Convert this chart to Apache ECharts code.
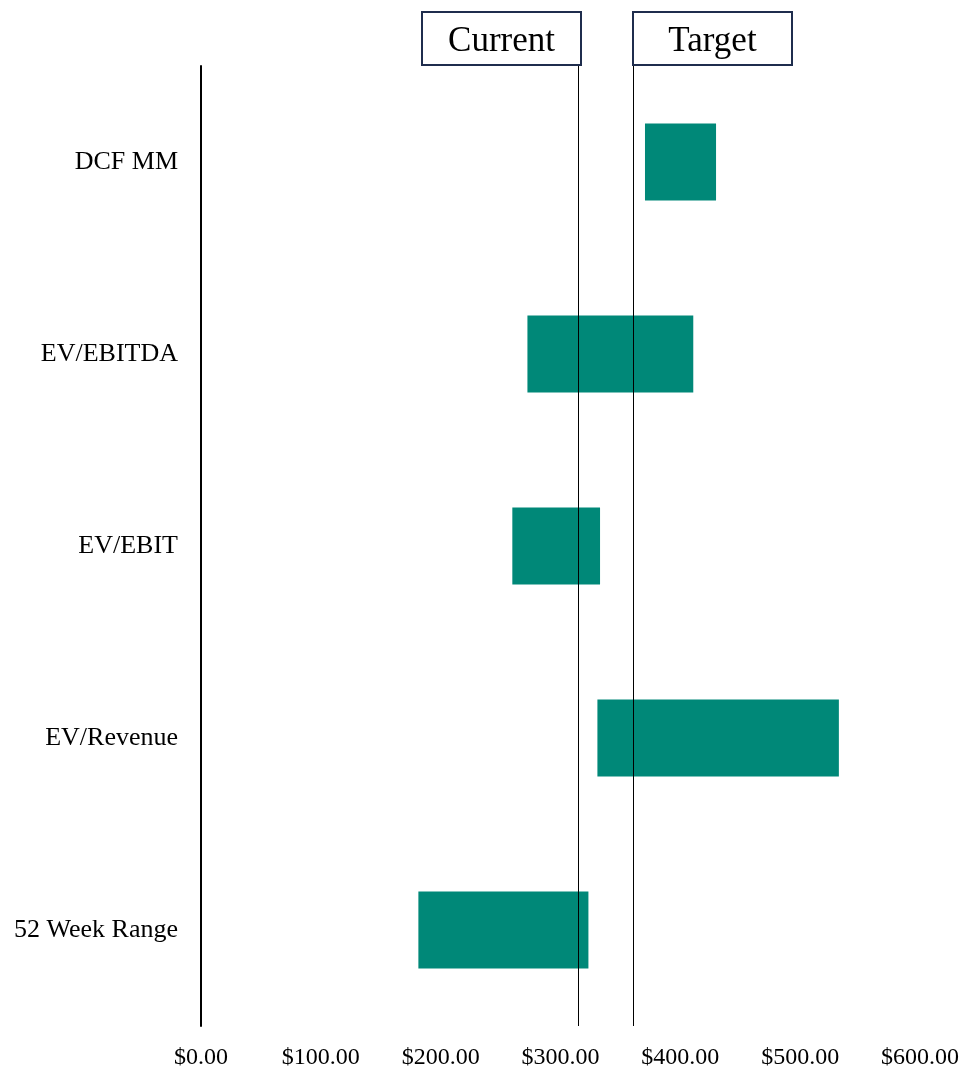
<!DOCTYPE html>
<html>
<head>
<meta charset="utf-8">
<script src="https://cdn.jsdelivr.net/npm/echarts@6/dist/echarts.min.js"></script>
<style>
html,body{margin:0;padding:0;background:#fff;}
#chart{width:967px;height:1070px;}
</style>
</head>
<body>
<div id="chart"></div>
<script>
// Data
var categories = ['52 Week Range', 'EV/Revenue', 'EV/EBIT', 'EV/EBITDA', 'DCF MM'];
var lowValues  = [181.4, 330.8, 259.8, 272.4, 370.5];
var highValues = [323.3, 532.3, 333.0, 410.8, 429.8];
var currentPrice = 314.5;
var targetPrice = 360.6;
var xTicks = [0, 100, 200, 300, 400, 500, 600];

var FONT = '"Liberation Serif", "Times New Roman", serif';
var BAR = '#008878';

var chart = echarts.init(document.getElementById('chart'), null, {renderer: 'canvas'});

var option = {
  animation: false,
  backgroundColor: '#ffffff',
  grid: {left: 201, right: 47, top: 66, bottom: 44, containLabel: false},
  xAxis: {
    type: 'value',
    min: xTicks[0],
    max: xTicks[xTicks.length - 1],
    interval: 100,
    axisLine: {show: false},
    axisTick: {show: false},
    splitLine: {show: false},
    axisLabel: {
      margin: 20,
      fontFamily: FONT,
      fontSize: 24,
      color: '#000',
      formatter: function (v) { return '$' + v.toFixed(2); }
    }
  },
  yAxis: {
    type: 'category',
    data: categories,
    axisLine: {show: true, lineStyle: {color: '#000', width: 2}},
    axisTick: {show: false},
    splitLine: {show: false},
    axisLabel: {
      margin: 23,
      fontFamily: FONT,
      fontSize: 26,
      color: '#000',
      padding: [3, 0, 0, 0]
    }
  },
  series: [
    {
      type: 'bar',
      stack: 'range',
      data: lowValues,
      itemStyle: {color: 'transparent'},
      barCategoryGap: '60%',
      silent: true
    },
    {
      type: 'bar',
      stack: 'range',
      data: highValues.map(function (h, i) { return +(h - lowValues[i]).toFixed(2); }),
      itemStyle: {color: BAR},
      barCategoryGap: '60%'
    },
    {
      type: 'line',
      data: [],
      z: 10,
      markLine: {
        symbol: ['none', 'none'],
        silent: true,
        label: {show: false},
        lineStyle: {color: '#000', width: 1, type: 'solid'},
        data: [{xAxis: currentPrice}, {xAxis: targetPrice}]
      }
    }
  ]
};
chart.setOption(option);

var cx = chart.convertToPixel({xAxisIndex: 0}, currentPrice);
var tx = chart.convertToPixel({xAxisIndex: 0}, targetPrice);
var boxW = 159, boxH = 53, boxTop = 12;
function box(left, text) {
  return {
    type: 'group',
    children: [
      {
        type: 'rect',
        shape: {x: left, y: boxTop, width: boxW, height: boxH},
        style: {fill: '#fff', stroke: '#1f2d4d', lineWidth: 2},
        z: 20
      },
      {
        type: 'text',
        x: left + boxW / 2,
        y: boxTop + boxH / 2 + 3,
        style: {
          text: text,
          fontFamily: FONT,
          fontSize: 35,
          fill: '#000',
          align: 'center',
          verticalAlign: 'middle'
        },
        z: 21
      }
    ]
  };
}
chart.setOption({
  graphic: [box(Math.round(cx) + 3 - boxW, 'Current'), box(Math.round(tx), 'Target')]
});
</script>
</body>
</html>
